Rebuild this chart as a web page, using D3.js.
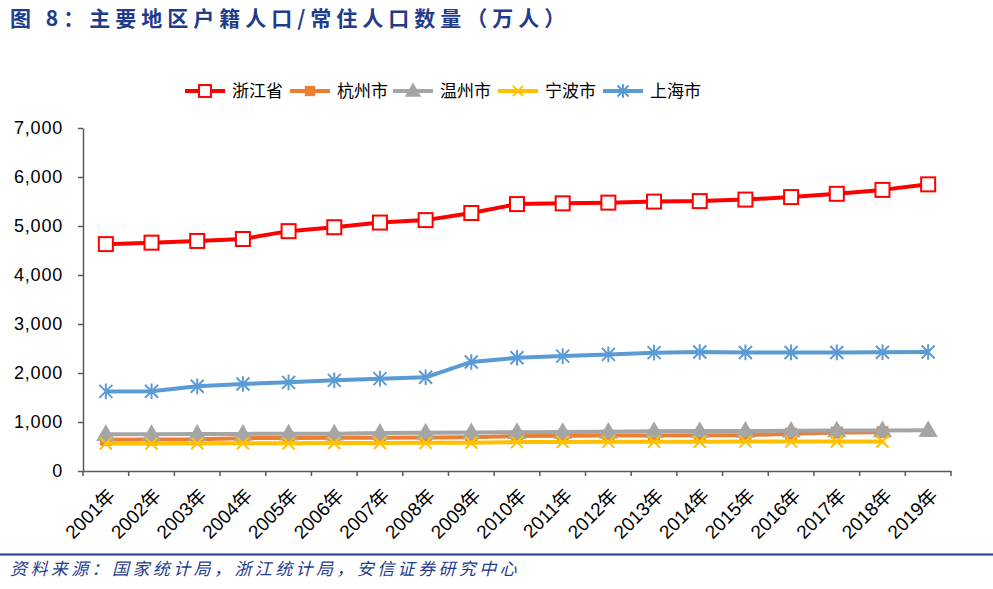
<!DOCTYPE html>
<html><head><meta charset="utf-8">
<script src="https://cdn.jsdelivr.net/npm/d3@7"></script>
<style>
html,body{margin:0;padding:0;background:#fff;}
svg{display:block;}
</style></head>
<body>
<svg id="chart" width="993" height="589"></svg>
<script>
const categories = ["2001年","2002年","2003年","2004年","2005年","2006年","2007年","2008年","2009年","2010年","2011年","2012年","2013年","2014年","2015年","2016年","2017年","2018年","2019年"];
const zhejiang = [4630,4660,4695,4735,4895,4975,5070,5120,5265,5447,5463,5477,5498,5508,5539,5590,5657,5737,5850];
const hangzhou = [640,643,646,670,675,678,680,683,688,712,718,722,725,728,732,760,785,790];
const wenzhou  = [750,752,755,757,760,762,775,780,785,790,795,800,812,815,818,820,825,828,830];
const ningbo   = [560,562,565,567,568,570,572,574,576,590,593,595,597,598,600,600,602,603];
const shanghai = [1625,1627,1728,1776,1809,1850,1885,1912,2226,2310,2345,2380,2415,2430,2420,2420,2420,2424,2428];
const yTicks = [0,1000,2000,3000,4000,5000,6000,7000];
const seriesNames = ["浙江省","杭州市","温州市","宁波市","上海市"];
const titleText = "图 8：主要地区户籍人口/常住人口数量（万人）";
const sourceText = "资料来源：国家统计局，浙江统计局，安信证券研究中心";

const series = [
  {name: seriesNames[0], values: zhejiang, color: "#FF0000", marker: "squareOpen"},
  {name: seriesNames[1], values: hangzhou, color: "#ED7D31", marker: "square"},
  {name: seriesNames[2], values: wenzhou,  color: "#A5A5A5", marker: "triangle"},
  {name: seriesNames[3], values: ningbo,   color: "#FFC000", marker: "x"},
  {name: seriesNames[4], values: shanghai, color: "#5B9BD5", marker: "star"}
];

const svg = d3.select("#chart");
const x = d3.scaleBand().domain(categories).range([83, 951]);
const y = d3.scaleLinear().domain([0, 7000]).range([471, 128]);
const cx = c => x(c) + x.bandwidth() / 2;

// title
svg.append("text").attr("x", 10).attr("y", 26)
  .attr("font-family", "Noto Sans CJK SC").attr("font-weight", "bold")
  .attr("font-size", 21).attr("letter-spacing", 5).attr("fill", "#1F3C8C")
  .text(titleText);

// y axis
const yAxis = svg.append("g").attr("transform", "translate(83,0)")
  .call(d3.axisLeft(y).tickValues(yTicks).tickFormat(d3.format(",")).tickSize(5).tickSizeOuter(0).tickPadding(15));
yAxis.selectAll("text").attr("font-family", "Liberation Sans, Arial, sans-serif").attr("font-size", 18).attr("letter-spacing", 0.8).attr("fill", "#000");
yAxis.selectAll("line").attr("stroke", "#595959").attr("stroke-width", 1.5);
yAxis.select(".domain").attr("stroke", "#595959").attr("stroke-width", 1.5);

// x axis
const xAxis = svg.append("g").attr("transform", "translate(0,471)")
  .call(d3.axisBottom(x).tickSize(0).tickSizeOuter(0).tickPadding(0));
xAxis.select(".domain").attr("stroke", "#595959").attr("stroke-width", 1.5);
xAxis.selectAll(".tick text")
  .attr("font-family", "Liberation Sans, Arial, Noto Sans CJK SC, sans-serif")
  .attr("font-size", 19).attr("fill", "#000")
  .attr("text-anchor", "end").attr("dy", "0.35em")
  .attr("transform", "translate(6,21) rotate(-45)");
const bounds = categories.map(c => x(c)).concat([x.range()[1]]);
svg.append("g").selectAll("line").data(bounds).join("line")
  .attr("x1", d => d).attr("x2", d => d).attr("y1", 471).attr("y2", 476)
  .attr("stroke", "#595959").attr("stroke-width", 1.5);

// markers
function drawMarker(g, type, color, size) {
  const s = size;
  if (type === "squareOpen") {
    g.append("rect").attr("x", -s/2).attr("y", -s/2).attr("width", s).attr("height", s)
      .attr("fill", "#fff").attr("stroke", color).attr("stroke-width", 2);
  } else if (type === "square") {
    g.append("rect").attr("x", -s/2).attr("y", -s/2).attr("width", s).attr("height", s)
      .attr("fill", color).attr("stroke", color).attr("stroke-width", 1);
  } else if (type === "triangle") {
    g.append("path").attr("d", `M0,${-s*0.62}L${s*0.6},${s*0.42}L${-s*0.6},${s*0.42}Z`)
      .attr("fill", color);
  } else if (type === "x") {
    const h = s/2;
    g.append("path").attr("d", `M${-h},${-h}L${h},${h}M${-h},${h}L${h},${-h}`)
      .attr("stroke", color).attr("stroke-width", 2).attr("fill", "none");
  } else if (type === "star") {
    const h = s/2;
    g.append("path").attr("d", `M${-h},${-h}L${h},${h}M${-h},${h}L${h},${-h}M0,${-h*1.2}L0,${h*1.2}`)
      .attr("stroke", color).attr("stroke-width", 2).attr("fill", "none");
  }
}
const markerSize = {squareOpen: 14, square: 11, triangle: 16, x: 12, star: 13};

const line = d3.line().x(d => cx(d.c)).y(d => y(d.v));
series.forEach(s => {
  const pts = s.values.map((v, i) => ({c: categories[i], v}));
  const g = svg.append("g");
  g.append("path").datum(pts).attr("d", line).attr("fill", "none")
    .attr("stroke", s.color).attr("stroke-width", 4).attr("stroke-linejoin", "round");
  pts.forEach(p => {
    const mg = g.append("g").attr("transform", `translate(${cx(p.c)},${y(p.v)})`);
    drawMarker(mg, s.marker, s.color, markerSize[s.marker]);
  });
});

// legend
const legendX = [185, 290, 393, 498, 603];
series.forEach((s, i) => {
  const g = svg.append("g").attr("transform", `translate(${legendX[i]},91)`);
  g.append("line").attr("x1", 0).attr("x2", 40).attr("stroke", s.color).attr("stroke-width", 4);
  const mg = g.append("g").attr("transform", "translate(20,0)");
  drawMarker(mg, s.marker, s.color, markerSize[s.marker] * 0.85);
  g.append("text").attr("x", 47).attr("y", 0).attr("dy", "0.36em")
    .attr("font-family", "Noto Sans CJK SC").attr("font-size", 17).attr("fill", "#000")
    .text(s.name);
});

// footer
svg.append("line").attr("x1", 0).attr("x2", 993).attr("y1", 554.5).attr("y2", 554.5)
  .attr("stroke", "#1F3C8C").attr("stroke-width", 2);
svg.append("text").attr("x", 10).attr("y", 575)
  .attr("font-family", "Noto Sans CJK SC").attr("font-style", "italic")
  .attr("font-size", 17).attr("letter-spacing", 3.4).attr("fill", "#1F3C8C")
  .text(sourceText);
</script>
</body></html>
